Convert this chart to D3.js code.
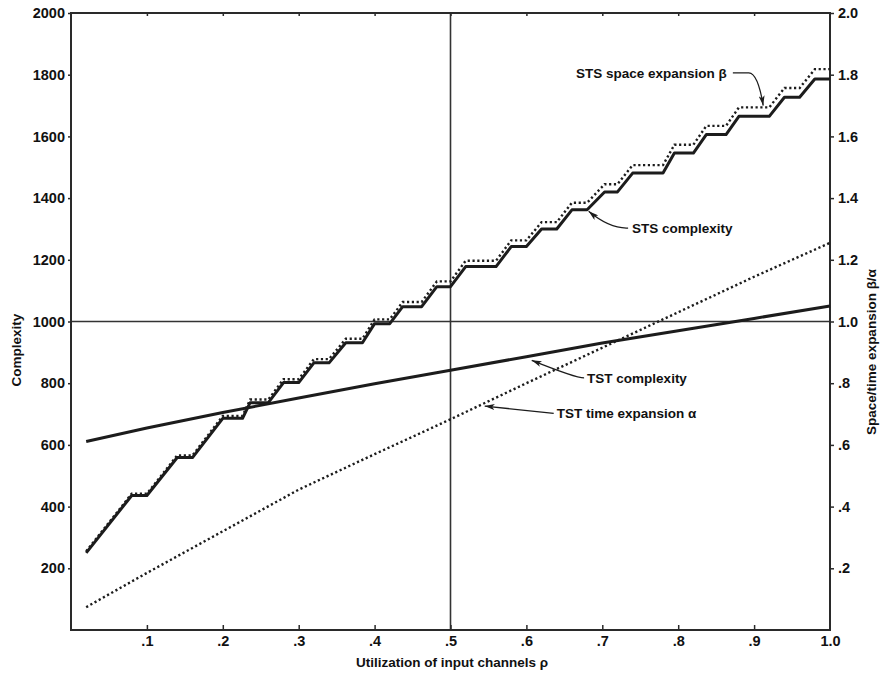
<!DOCTYPE html>
<html>
<head>
<meta charset="utf-8">
<script src="https://cdn.jsdelivr.net/npm/d3@7"></script>
<style>
  html, body { margin:0; padding:0; background:#fff; }
  svg text { font-family: "Liberation Sans", Arial, sans-serif; font-weight: bold; fill:#111; }
</style>
</head>
<body>
<svg id="chart" width="885" height="677"></svg>
<script>
// ---------------- DATA ----------------
const xTicks = [0.1,0.2,0.3,0.4,0.5,0.6,0.7,0.8,0.9,1.0];
const xTickLabels = [".1",".2",".3",".4",".5",".6",".7",".8",".9","1.0"];
const leftTicks = [200,400,600,800,1000,1200,1400,1600,1800,2000];
const leftTickLabels = ["200","400","600","800","1000","1200","1400","1600","1800","2000"];
const rightTicks = [0.2,0.4,0.6,0.8,1.0,1.2,1.4,1.6,1.8,2.0];
const rightTickLabels = [".2",".4",".6",".8","1.0","1.2","1.4","1.6","1.8","2.0"];

// STS (space-time-space) staircase vertices
const stsRho = [0.02,0.08,0.10,0.14,0.16,0.20,0.226,0.236,0.26,0.28,0.30,0.32,0.34,0.362,0.384,0.40,0.42,0.437,0.462,0.482,0.50,0.52,0.56,0.58,0.60,0.62,0.64,0.66,0.68,0.703,0.72,0.74,0.78,0.795,0.82,0.837,0.863,0.88,0.92,0.94,0.96,0.98,1.0];
const stsComplexity = [250,436,436,559,559,686,686,737,737,802,802,866,866,931,931,993,993,1048,1048,1113,1113,1178,1178,1243,1243,1300,1300,1362,1362,1420,1420,1481,1481,1546,1546,1606,1606,1665,1665,1727,1727,1786,1786];
const stsBeta = [0.255,0.442,0.442,0.566,0.566,0.694,0.694,0.747,0.747,0.813,0.813,0.878,0.878,0.944,0.944,1.007,1.007,1.063,1.063,1.130,1.130,1.197,1.197,1.263,1.263,1.322,1.322,1.385,1.385,1.445,1.445,1.507,1.507,1.573,1.573,1.634,1.634,1.694,1.694,1.757,1.757,1.818,1.818];

// TST (time-space-time)
const tstRho = [0.02,0.1,0.2,0.3,0.4,0.5,0.6,0.7,0.8,0.9,1.0];
const tstComplexity = [611,655,705,752,798,842,886,930,970,1010,1050];
const tstAlpha = [0.074,0.185,0.32,0.455,0.57,0.683,0.80,0.915,1.03,1.145,1.255];

// ---------------- CHART ----------------
const svg = d3.select("#chart");
const x = d3.scaleLinear().domain([0,1]).range([71,830]);
const yL = d3.scaleLinear().domain([0,2000]).range([630,13]);
const yR = d3.scaleLinear().domain([0,2]).range([630,13]);
const ink = "#1c1c1c";

// reference lines
svg.append("line").attr("x1",x(0)).attr("x2",x(1)).attr("y1",yL(1000)).attr("y2",yL(1000))
  .attr("stroke","#333").attr("stroke-width",1.6);
svg.append("line").attr("x1",x(0.5)).attr("x2",x(0.5)).attr("y1",yL(0)).attr("y2",yL(2000))
  .attr("stroke","#333").attr("stroke-width",1.6);

// frame
svg.append("rect").attr("x",x(0)).attr("y",yL(2000)).attr("width",x(1)-x(0)).attr("height",yL(0)-yL(2000))
  .attr("fill","none").attr("stroke","#2a2a2a").attr("stroke-width",2);

// axes
const axL = svg.append("g").attr("transform",`translate(${x(0)},0)`)
  .call(d3.axisLeft(yL).tickValues(leftTicks).tickSize(3).tickPadding(3)
    .tickFormat((d,i)=>leftTickLabels[i]));
const axR = svg.append("g").attr("transform",`translate(${x(1)},0)`)
  .call(d3.axisRight(yR).tickValues(rightTicks).tickSize(4).tickPadding(4)
    .tickFormat((d,i)=>rightTickLabels[i]));
const axB = svg.append("g").attr("transform",`translate(0,${yL(0)})`)
  .call(d3.axisBottom(x).tickValues(xTicks).tickSizeInner(-5).tickSizeOuter(0).tickPadding(3)
    .tickFormat((d,i)=>xTickLabels[i]));
const axT = svg.append("g").attr("transform",`translate(0,${yL(2000)})`)
  .call(d3.axisTop(x).tickValues(xTicks.slice(0,9)).tickSizeInner(-3).tickSizeOuter(0).tickFormat(""));
[axL,axR,axB,axT].forEach(g=>{
  g.select(".domain").remove();
  g.selectAll(".tick line").attr("stroke","#2a2a2a").attr("stroke-width",1.5);
  g.selectAll(".tick text").attr("fill","#111").style("font-size","14.5px")
    .style("font-family","'Liberation Sans', Arial, sans-serif").style("font-weight","bold");
});
axB.selectAll(".tick").filter((d)=>d===1.0).select("line").remove();
axB.selectAll(".tick text").attr("y",6);

// series
const lineL = d3.line().x(d=>x(d[0])).y(d=>yL(d[1]));
const lineR = d3.line().x(d=>x(d[0])).y(d=>yR(d[1]));

svg.append("path").datum(tstRho.map((r,i)=>[r,tstComplexity[i]]))
  .attr("d",lineL).attr("fill","none").attr("stroke",ink).attr("stroke-width",3);
svg.append("path").datum(tstRho.map((r,i)=>[r,tstAlpha[i]]))
  .attr("d",lineR).attr("fill","none").attr("stroke",ink).attr("stroke-width",2.4)
  .attr("stroke-dasharray","2.2,2.6");
svg.append("path").datum(stsRho.map((r,i)=>[r,stsComplexity[i]]))
  .attr("d",lineL).attr("fill","none").attr("stroke",ink).attr("stroke-width",3).attr("stroke-linejoin","round");
svg.append("path").datum(stsRho.map((r,i)=>[r,stsBeta[i]]))
  .attr("d",lineR).attr("fill","none").attr("stroke",ink).attr("stroke-width",2.4)
  .attr("stroke-dasharray","2.2,2.6");

// arrow marker
svg.append("defs").append("marker").attr("id","arr").attr("viewBox","0 0 10 6")
  .attr("refX",10).attr("refY",3).attr("markerWidth",10).attr("markerHeight",6)
  .attr("markerUnits","userSpaceOnUse").attr("orient","auto")
  .append("path").attr("d","M0,0 L10,3 L0,6 L2.5,3 z").attr("fill",ink);

// annotations (positions in data units, right-axis units)
const notes = [
  {text:"STS space expansion \u03b2", at:[0.864,1.806], anchor:"end",
   path:[[0.872,1.806],[0.893,1.806],[0.912,1.70]], ctrl:[0.905,1.805]},
  {text:"STS complexity", at:[0.739,1.303], anchor:"start",
   path:[[0.734,1.303],[0.682,1.357]], ctrl:[0.71,1.30]},
  {text:"TST complexity", at:[0.680,0.817], anchor:"start",
   path:[[0.676,0.817],[0.607,0.874]], ctrl:[0.665,0.817]},
  {text:"TST time expansion \u03b1", at:[0.640,0.704], anchor:"start",
   path:[[0.636,0.702],[0.545,0.726]], ctrl:null}
];
notes.forEach(n=>{
  svg.append("text").attr("x",x(n.at[0])).attr("y",yR(n.at[1])).attr("dy","0.35em")
    .attr("text-anchor",n.anchor).style("font-size","13.5px").text(n.text);
  const p = n.path.map(d=>[x(d[0]),yR(d[1])]);
  let dStr;
  if (n.ctrl) {
    const c=[x(n.ctrl[0]),yR(n.ctrl[1])];
    if (p.length===3) dStr=`M${p[0]}L${p[1]}Q${c} ${p[2]}`;
    else dStr=`M${p[0]}Q${c} ${p[1]}`;
  } else dStr=`M${p[0]}L${p[1]}`;
  svg.append("path").attr("d",dStr).attr("fill","none").attr("stroke",ink)
    .attr("stroke-width",1.3).attr("marker-end","url(#arr)");
});

// axis titles
svg.append("text").attr("transform",`translate(21,350) rotate(-90)`).attr("text-anchor","middle")
  .style("font-size","13.5px").text("Complexity");
svg.append("text").attr("transform",`translate(876,352) rotate(-90)`).attr("text-anchor","middle")
  .style("font-size","13.5px").text("Space/time expansion \u03b2/\u03b1");
svg.append("text").attr("x",452).attr("y",667).attr("text-anchor","middle")
  .style("font-size","13.5px").text("Utilization of input channels \u03c1");
</script>
</body>
</html>
